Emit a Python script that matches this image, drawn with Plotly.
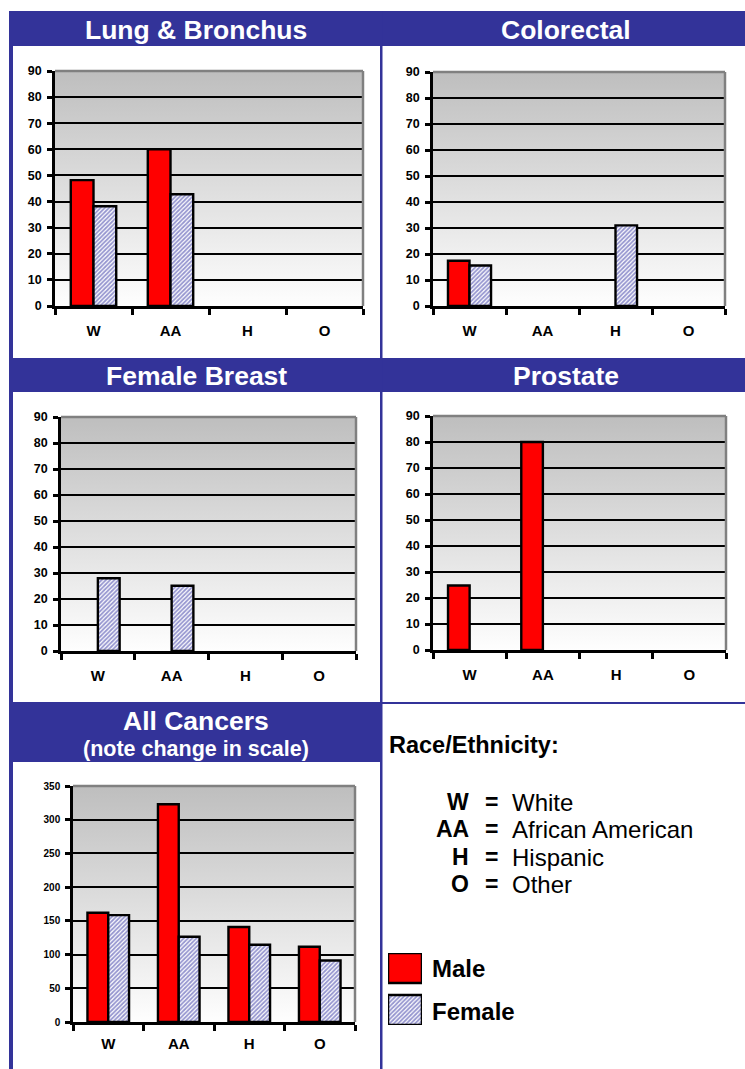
import base64
import plotly.graph_objects as go

# ---------------- data ----------------
races = ["W", "AA", "H", "O"]
race_names = ["White", "African American", "Hispanic", "Other"]

lung_male = [48.2, 60.0, None, None]
lung_female = [38.2, 42.8, None, None]
colo_male = [17.4, None, None, None]
colo_female = [15.6, None, 31.0, None]
breast_male = [None, None, None, None]
breast_female = [28.0, 25.1, None, None]
prostate_male = [24.8, 80.0, None, None]
prostate_female = [None, None, None, None]
all_male = [162, 323, 141, 111.5]
all_female = [158.5, 126.5, 114.5, 91.3]

small_ticks = [0, 10, 20, 30, 40, 50, 60, 70, 80, 90]
all_ticks = [0, 50, 100, 150, 200, 250, 300, 350]

sexes = ["Male", "Female"]
swatch_values = [1, 1]

# ---------------- style ----------------
W, H = 745, 1069
NAVY = "#333399"
RED = "#ff0000"
HATCH = "#2c2ca0"
FONT = "Liberation Sans"


def px(x):
    return x / W


def py(y):
    return 1 - y / H


grad_svg = (
    '<svg xmlns="http://www.w3.org/2000/svg" width="100" height="100" viewBox="0 0 100 100" '
    'preserveAspectRatio="none"><defs><linearGradient id="g" x1="0" y1="0" x2="0" y2="1">'
    '<stop offset="0" stop-color="#bebebe"/><stop offset="1" stop-color="#fefefe"/>'
    '</linearGradient></defs><rect width="100" height="100" fill="url(#g)"/></svg>'
)
grad_uri = "data:image/svg+xml;base64," + base64.b64encode(grad_svg.encode()).decode()

panels = [
    dict(male=lung_male, female=lung_female, ticks=small_ticks, box=(55, 363, 71, 306), tfs=12.5, cfs=15, stand=9),
    dict(male=colo_male, female=colo_female, ticks=small_ticks, box=(433, 725, 72, 306), tfs=12.5, cfs=15, stand=9),
    dict(male=breast_male, female=breast_female, ticks=small_ticks, box=(61, 356, 417, 651), tfs=12.5, cfs=15, stand=9),
    dict(male=prostate_male, female=prostate_female, ticks=small_ticks, box=(433, 726, 416, 650), tfs=12.5, cfs=15, stand=9),
    dict(male=all_male, female=all_female, ticks=all_ticks, box=(73, 355, 786, 1022), tfs=10, cfs=15, stand=6),
]

PATTERN = dict(shape="/", fgcolor=HATCH, bgcolor="white", size=3, solidity=0.6)

fig = go.Figure()
shapes = []
images = []
layout_axes = {}

for i, p in enumerate(panels, start=1):
    xa = "x" if i == 1 else f"x{i}"
    ya = "y" if i == 1 else f"y{i}"
    x0, x1, y0, y1 = p["box"]
    fig.add_trace(go.Bar(
        x=races, y=p["male"], name="Male", xaxis=xa, yaxis=ya, showlegend=False,
        marker=dict(color=RED, line=dict(color="black", width=2.4)),
    ))
    fig.add_trace(go.Bar(
        x=races, y=p["female"], name="Female", xaxis=xa, yaxis=ya, showlegend=False,
        marker=dict(color="white", line=dict(color="black", width=2.4), pattern=PATTERN),
    ))
    kx = "xaxis" if i == 1 else f"xaxis{i}"
    ky = "yaxis" if i == 1 else f"yaxis{i}"
    layout_axes[kx] = dict(
        domain=[px(x0), px(x1)], anchor=ya, type="category", categoryorder="array",
        categoryarray=races, range=[-0.5, 3.5], tickson="boundaries", ticks="outside",
        ticklen=6, tickwidth=2.5, tickcolor="black", showline=True, linecolor="black",
        linewidth=2.5, showgrid=False, ticklabelstandoff=p["stand"], automargin=False,
        tickfont=dict(family=FONT, size=p["cfs"], color="black", weight="bold"), fixedrange=True,
    )
    layout_axes[ky] = dict(
        domain=[py(y1), py(y0)], anchor=xa, range=[0, p["ticks"][-1]], tickmode="array",
        tickvals=p["ticks"], ticks="outside", ticklen=5, tickwidth=2.5, tickcolor="black",
        showline=True, linecolor="black", linewidth=2.5, showgrid=True, gridcolor="black",
        gridwidth=2.2, zeroline=False, ticklabelstandoff=3, automargin=False,
        tickfont=dict(family=FONT, size=p["tfs"], color="black", weight="bold"), fixedrange=True,
    )
    images.append(dict(source=grad_uri, xref="paper", yref="paper", x=px(x0), y=py(y0),
                       sizex=px(x1) - px(x0), sizey=py(y0) - py(y1), sizing="stretch",
                       xanchor="left", yanchor="top", layer="below"))
    shapes.append(dict(type="line", xref="paper", yref="paper", x0=px(x0), x1=px(x1),
                       y0=py(y0), y1=py(y0), line=dict(color="#808080", width=2.5)))
    shapes.append(dict(type="line", xref="paper", yref="paper", x0=px(x1), x1=px(x1),
                       y0=py(y0), y1=py(y1), line=dict(color="#808080", width=2.5)))

# legend swatches as a small bar subplot (one trace per swatch, fixed offsets)
swatch_styles = [
    dict(color=RED, line=dict(color="black", width=2.5)),
    dict(color="white", line=dict(color="black", width=2.5), pattern=PATTERN),
]
for sex, val, style in zip(sexes, swatch_values, swatch_styles):
    fig.add_trace(go.Bar(
        y=[sex], x=[val], orientation="h", xaxis="x6", yaxis="y6", showlegend=False,
        width=0.714, offset=-0.357, hoverinfo="skip", marker=style,
    ))
layout_axes["xaxis6"] = dict(domain=[px(388), px(422)], anchor="y6", range=[0, 1], visible=False,
                             fixedrange=True, automargin=False)
layout_axes["yaxis6"] = dict(domain=[py(1025), py(953)], anchor="x6", type="category",
                             categoryorder="array", categoryarray=sexes, range=[1.357, -0.357],
                             visible=False, fixedrange=True, automargin=False)

# ---------------- frame ----------------
shapes += [
    dict(type="rect", xref="paper", yref="paper", x0=px(9), x1=1, y0=py(11), y1=py(46),
         fillcolor=NAVY, line=dict(width=0), layer="below"),
    dict(type="rect", xref="paper", yref="paper", x0=px(9), x1=1, y0=py(358), y1=py(392),
         fillcolor=NAVY, line=dict(width=0), layer="below"),
    dict(type="rect", xref="paper", yref="paper", x0=px(9), x1=px(381), y0=py(702), y1=py(762),
         fillcolor=NAVY, line=dict(width=0), layer="below"),
    dict(type="rect", xref="paper", yref="paper", x0=px(381), x1=1, y0=py(702), y1=py(704),
         fillcolor=NAVY, line=dict(width=0), layer="below"),
    dict(type="rect", xref="paper", yref="paper", x0=px(9), x1=px(13), y0=py(11), y1=0,
         fillcolor=NAVY, line=dict(width=0), layer="below"),
    dict(type="rect", xref="paper", yref="paper", x0=px(380), x1=px(382.5), y0=py(11), y1=0,
         fillcolor=NAVY, line=dict(width=0), layer="below"),
]

annotations = []


def txt(x, y, text, size, xanchor="center", color="black", bold=True):
    annotations.append(dict(
        x=px(x), y=py(y), xref="paper", yref="paper", text=f"<b>{text}</b>" if bold else text,
        showarrow=False, xanchor=xanchor, yanchor="middle",
        font=dict(family=FONT, size=size, color=color)))


txt(196, 30, "Lung &amp; Bronchus", 26.5, color="white")
txt(566, 30, "Colorectal", 26.5, color="white")
txt(196, 376, "Female Breast", 26.5, color="white")
txt(566, 376, "Prostate", 26.5, color="white")
txt(196, 721, "All Cancers", 26.5, color="white")
txt(196, 749, "(note change in scale)", 21.5, color="white")

txt(387, 745, "Race/Ethnicity:", 23.5, xanchor="left")
row_y = [802, 829, 857, 884]
for code, name, yy in zip(races, race_names, row_y):
    txt(471, yy, code, 23, xanchor="right")
    txt(491, yy, "=", 23)
    txt(510, yy, name, 24, xanchor="left", bold=False)

txt(430, 968, "Male", 24, xanchor="left")
txt(430, 1011, "Female", 24, xanchor="left")

fig.update_layout(
    width=W, height=H, margin=dict(l=0, r=0, t=0, b=0, autoexpand=False), autosize=False,
    paper_bgcolor="white", plot_bgcolor="rgba(0,0,0,0)",
    barmode="group", bargap=0.41, bargroupgap=0,
    shapes=shapes, images=images, annotations=annotations,
    font=dict(family=FONT), showlegend=False,
    **layout_axes,
)

fig.write_html(
    "out.html",
    config={"displayModeBar": False, "responsive": False},
    post_script="var s=document.createElement('style');"
                "s.innerHTML='html,body{margin:0 !important;padding:0 !important;overflow:hidden;}';"
                "document.head.appendChild(s);",
)
